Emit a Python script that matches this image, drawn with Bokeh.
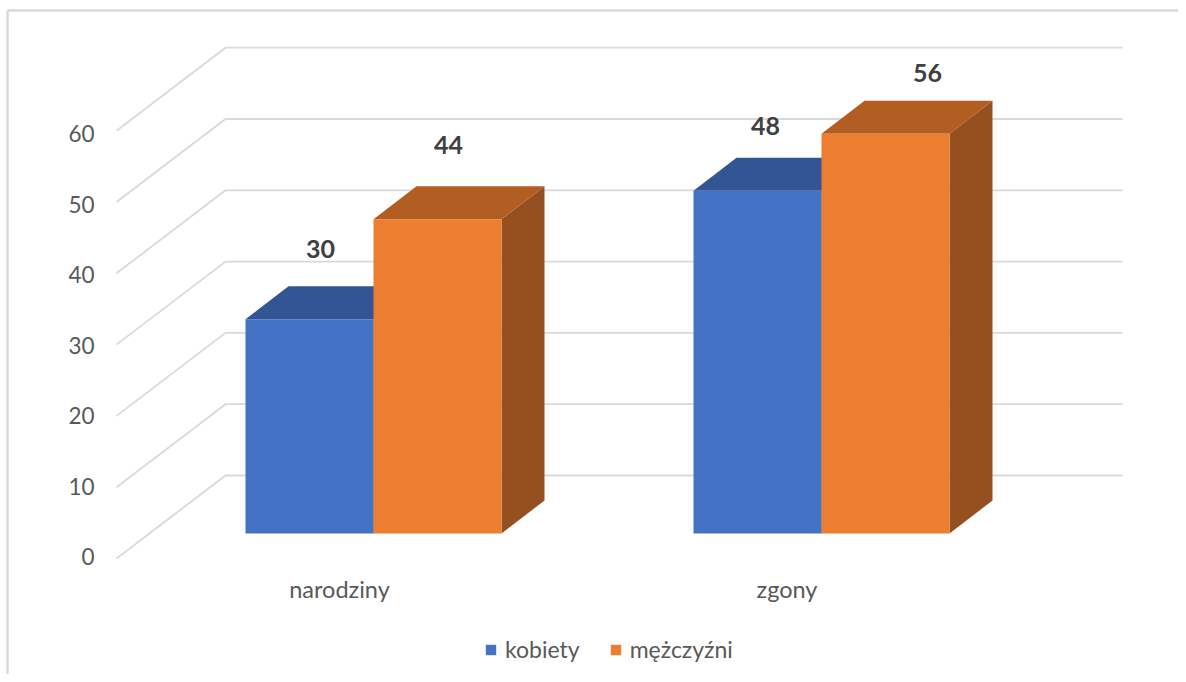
from bokeh.plotting import figure
from bokeh.models import Range1d, LinearAxis, FixedTicker, Legend, LegendItem, ColumnDataSource
from bokeh.core.properties import value
from bokeh.embed import file_html
from bokeh.resources import INLINE

categories = ["narodziny", "zgony"]
series_names = ["kobiety", "mężczyźni"]
kobiety = [30, 48]
mezczyzni = [44, 56]
y_ticks = [0, 10, 20, 30, 40, 50, 60]

FONT = "Lato"
TEXT = "#595959"
GRID = "#d9d9d9"
front_colors = ["#4472C4", "#ED7D31"]
top_colors = ["#335593", "#B25E23"]
side_colors = ["#2B4A80", "#964F1E"]

W, H = 1178, 674
PX_X = 448.0      # pixels per category
PX_Y = 7.14       # pixels per value unit
X0, Y0 = 373.0, 533.0   # pixel of category 0 / value 0 in the bars' front plane

def xd(px):
    return (px - X0) / PX_X

def yd(px):
    return (Y0 - px) / PX_Y

bar_w = 128 / PX_X
depth_x = 43 / PX_X
depth_y = 33 / PX_Y

p = figure(width=W, height=H, output_backend="svg", toolbar_location=None,
           x_range=Range1d(xd(0), xd(W)), y_range=Range1d(yd(H), yd(0)),
           min_border=0, min_border_left=0, min_border_right=0, min_border_top=0, min_border_bottom=0,
           x_axis_type=None, y_axis_type=None, margin=0)
p.outline_line_color = None
p.grid.visible = False
p.background_fill_color = "white"
p.border_fill_color = "white"

# panel border (top and left edges)
p.segment(x0=[xd(7), xd(7)], y0=[yd(10), yd(10)], x1=[xd(W), xd(7)], y1=[yd(10), yd(H)],
          line_color=GRID, line_width=2.5)

# walls: one floor-to-back line and one back-wall line per tick
wall_front_x, wall_back_x, wall_right_x = xd(116), xd(225), xd(1122)
wall_front_y0, wall_back_y0 = yd(558), yd(475)
xs, ys = [], []
for t in y_ticks:
    v = t * 71.3 / 10 / PX_Y
    xs.append([wall_front_x, wall_back_x, wall_right_x])
    ys.append([wall_front_y0 + v, wall_back_y0 + v, wall_back_y0 + v])
p.multi_line(xs, ys, line_color=GRID, line_width=1.8)

# bars
renderers = []
for s, vals in enumerate([kobiety, mezczyzni]):
    lefts = [c + (s - 1) * bar_w for c in range(len(categories))]
    rights = [l + bar_w for l in lefts]
    p.patches(
        [[r, r + depth_x, r + depth_x, r] for r in rights],
        [[0, depth_y, v + depth_y, v] for v in vals],
        fill_color=side_colors[s], line_color=None)
    p.patches(
        [[l, l + depth_x, r + depth_x, r] for l, r in zip(lefts, rights)],
        [[v, v + depth_y, v + depth_y, v] for v in vals],
        fill_color=top_colors[s], line_color=None)
    renderers.append(p.quad(left=lefts, right=rights, bottom=0, top=vals,
                            fill_color=front_colors[s], line_color=None))

# data labels
label_dx = [[11, 8], [11, 42]]
label_dy = [[70, 65], [74, 61]]
for s, vals in enumerate([kobiety, mezczyzni]):
    src = ColumnDataSource(dict(
        x=[c + (s - 0.5) * bar_w for c in range(len(categories))],
        y=vals,
        t=[str(v) for v in vals],
        dx=label_dx[s],
        dy=[-d for d in label_dy[s]],
    ))
    p.text(x="x", y="y", text="t", source=src, x_offset="dx", y_offset="dy",
           text_font=value(FONT), text_font_style="bold", text_font_size="25px",
           text_color="#404040", text_align="center", text_baseline="middle")

# value axis, labels only, inside the frame
p.extra_y_ranges["axis"] = Range1d((556 - H) / 7.05, 556 / 7.05)
ya = LinearAxis(y_range_name="axis", ticker=FixedTicker(ticks=y_ticks), fixed_location=xd(100),
                axis_line_color=None, major_tick_line_color=None, minor_tick_line_color=None,
                major_label_standoff=0, major_label_text_font=FONT,
                major_label_text_font_size="22.5px", major_label_text_color=TEXT)
p.add_layout(ya, "left")

# category axis, labels only, inside the frame
p.extra_x_ranges["cats"] = Range1d(-339 / 447.5, (W - 339) / 447.5)
xa = LinearAxis(x_range_name="cats", ticker=FixedTicker(ticks=list(range(len(categories)))),
                fixed_location=yd(568),
                major_label_overrides={i: c for i, c in enumerate(categories)},
                axis_line_color=None, major_tick_line_color=None, minor_tick_line_color=None,
                major_label_standoff=0, major_label_text_font=FONT,
                major_label_text_font_size="23.5px", major_label_text_color=TEXT)
p.add_layout(xa, "below")

legend = Legend(items=[LegendItem(label=n, renderers=[r]) for n, r in zip(series_names, renderers)],
                orientation="horizontal", location=(484, 11),
                glyph_width=13, glyph_height=13, label_standoff=8, spacing=29, padding=6, margin=0,
                background_fill_alpha=0, border_line_color=None,
                label_text_font=FONT, label_text_font_size="23px", label_text_color=TEXT)
p.add_layout(legend, "center")

open("out.html", "w").write(file_html(p, INLINE))
